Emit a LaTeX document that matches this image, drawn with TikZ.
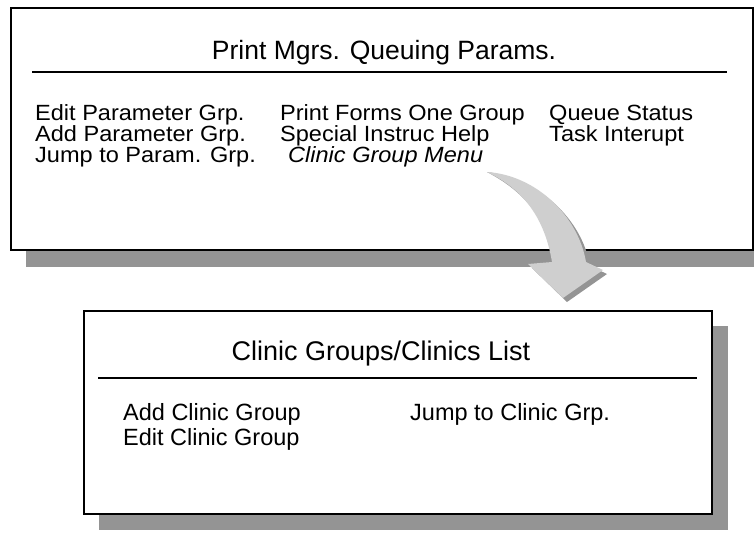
\documentclass[tikz,border=0pt]{standalone}
\usepackage{fontspec}
\setmainfont{Liberation Sans}
\newfontfamily\widefont[FakeStretch=1.07]{Liberation Sans}
\begin{document}
\begin{tikzpicture}[x=1pt,y=-1pt,
  box/.style={draw=black,line width=2pt,fill=white,inner sep=0pt,anchor=north west},
  shade/.style={fill=black!42},
  topitem/.style={anchor=base west,inner sep=0pt,font=\widefont\fontsize{22}{24}\selectfont},
  toptitle/.style={anchor=base,inner sep=0pt,font=\fontsize{26.5}{28}\selectfont},
  botitem/.style={anchor=base west,inner sep=0pt,font=\fontsize{23.5}{25}\selectfont},
  bottitle/.style={anchor=base,inner sep=0pt,font=\fontsize{27}{29}\selectfont},
  rule/.style={line width=2pt},
  arrowfill/.style={fill=black!19},
  arrowshade/.style={fill=black!42}]
\useasboundingbox (0,0) rectangle (754,541);
% top box
\fill[shade] (26,25) rectangle (754,267);
\node[box,minimum width=742pt,minimum height=242pt] (topbox) at (10,7) {};
\node[toptitle] (ttitle) at (384,59) {Print Mgrs. Queuing Params.};
\draw[rule] (32,72) -- (727,72);
\node[topitem] (e1) at (35,120) {Edit Parameter Grp.};
\node[topitem] (e2) at (35,141) {Add Parameter Grp.};
\node[topitem] (e3) at (35,162) {Jump to Param. Grp.};
\node[topitem] (p1) at (280,120) {Print Forms One Group};
\node[topitem] (p2) at (280,141) {Special Instruc Help};
\node[topitem,font=\widefont\itshape\fontsize{22}{24}\selectfont] (menu) at (288,162) {Clinic Group Menu};
\node[topitem] (q1) at (549,120) {Queue Status};
\node[topitem] (q2) at (549,141) {Task Interupt};
% bottom box
\fill[shade] (99,326) rectangle (728,530);
\node[box,minimum width=628pt,minimum height=203pt] (botbox) at (83,310) {};
\node[bottitle] (btitle) at (381,360) {Clinic Groups/Clinics List};
\draw[rule] (98,378) -- (697,378);
\node[botitem] (b1) at (123,420) {Add Clinic Group};
\node[botitem] (b2) at (123,445) {Edit Clinic Group};
\node[botitem] (b3) at (410,420) {Jump to Clinic Grp.};
% curved arrow
\coordinate (tail) at (487,172);
\fill[arrowshade,shift={(4,4)}] (tail) .. controls (535,175) and (578,215) .. (586,262)
  -- (603,270) -- (563,298) -- (528,264) -- (552,262)
  .. controls (545,220) and (525,190) .. (tail) -- cycle;
\fill[arrowfill] (tail) .. controls (535,175) and (578,215) .. (586,262)
  -- (603,270) -- (563,298) -- (528,264) -- (552,262)
  .. controls (545,220) and (525,190) .. (tail) -- cycle;
\end{tikzpicture}
\end{document}
